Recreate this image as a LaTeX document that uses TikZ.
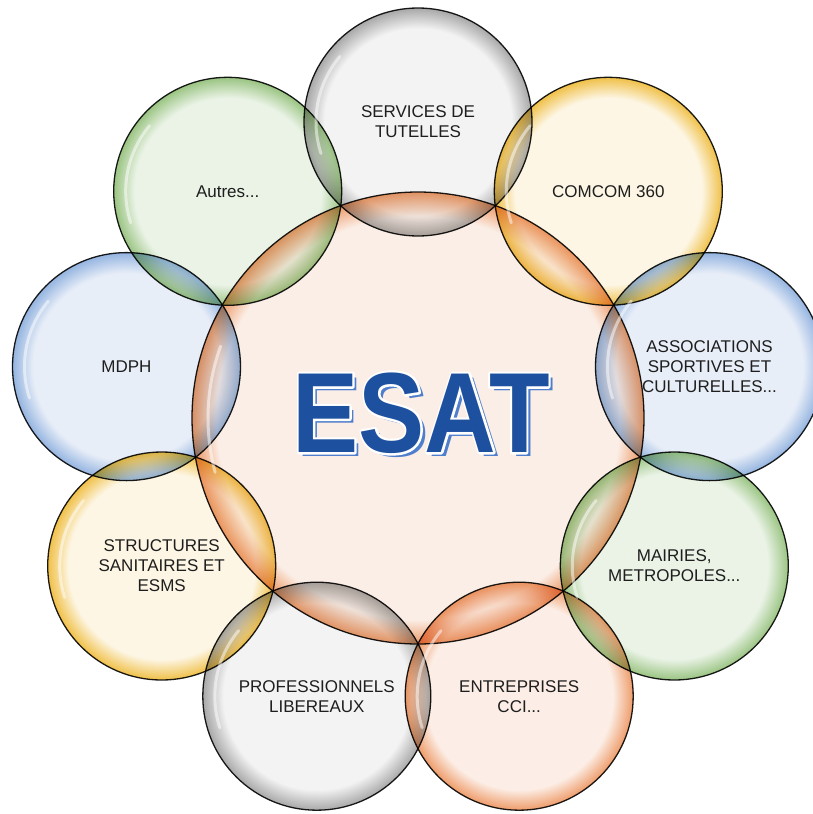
\documentclass[tikz,border=0pt]{standalone}
\usepackage{fontspec}
\setmainfont{Liberation Sans}

% interior / rim colours of the bubbles
\definecolor{greyin}{HTML}{F3F3F3}   \definecolor{greyout}{HTML}{A8A8A8}
\definecolor{yellowin}{HTML}{FDF6E4} \definecolor{yellowout}{HTML}{F0C048}
\definecolor{bluein}{HTML}{E8EEF8}   \definecolor{blueout}{HTML}{94B4E0}
\definecolor{greenin}{HTML}{EAF3E6}  \definecolor{greenout}{HTML}{9AC482}
\definecolor{orangein}{HTML}{FCEEE6} \definecolor{orangeout}{HTML}{EE9C6A}
\definecolor{hubin}{HTML}{FBEEE6}    \definecolor{hubout}{HTML}{EC9A68}
\definecolor{edgeline}{HTML}{1C1C1C}
\definecolor{labelink}{HTML}{1E1E1E}
\definecolor{esatblue}{HTML}{1E50A0}
\definecolor{esatshade}{HTML}{4E7ECC}

% pale centre, coloured rim (the path edge sits at 25bp)
\pgfdeclareradialshading{greyring}{\pgfpointorigin}{color(0bp)=(greyin); color(20.5bp)=(greyin); color(25bp)=(greyout); color(50bp)=(greyout)}
\pgfdeclareradialshading{yellowring}{\pgfpointorigin}{color(0bp)=(yellowin); color(20.5bp)=(yellowin); color(25bp)=(yellowout); color(50bp)=(yellowout)}
\pgfdeclareradialshading{bluering}{\pgfpointorigin}{color(0bp)=(bluein); color(20.5bp)=(bluein); color(25bp)=(blueout); color(50bp)=(blueout)}
\pgfdeclareradialshading{greenring}{\pgfpointorigin}{color(0bp)=(greenin); color(20.5bp)=(greenin); color(25bp)=(greenout); color(50bp)=(greenout)}
\pgfdeclareradialshading{orangering}{\pgfpointorigin}{color(0bp)=(orangein); color(20.5bp)=(orangein); color(25bp)=(orangeout); color(50bp)=(orangeout)}
\pgfdeclareradialshading{hubring}{\pgfpointorigin}{color(0bp)=(hubin); color(22.3bp)=(hubin); color(25bp)=(hubout); color(50bp)=(hubout)}

\newcommand{\esatword}{\scalebox{0.87}[1]{\fontsize{114}{114}\selectfont\bfseries ESAT}}
% same word, glyphs filled and stroked in white for the halo
\newcommand{\esathalo}{\special{pdf:literal direct 2 Tr 4.6 w 1 1 1 RG 1 j}\esatword\special{pdf:literal direct 0 Tr}}

\begin{document}
\begin{tikzpicture}[x=1pt,y=-1pt,
  bubble/.style={circle, inner sep=0pt, outer sep=0pt, minimum size=228pt,
                 shade, draw=edgeline, line width=1.3pt, blend mode=multiply},
  hub/.style={bubble, minimum size=452pt},
  lbl/.style={align=center, font=\fontsize{17}{20}\selectfont, text=labelink, inner sep=0pt},
  esattxt/.style={inner sep=0pt, outer sep=0pt},
  gloss/.style={white, line width=3pt, line cap=round, opacity=0.5}]

\fill[white] (0,0) rectangle (813,814);
\useasboundingbox (0,0) rectangle (813,814);

% central bubble
\node[hub, shading=hubring] (hub) at (418,418) {};

% ring of partner bubbles
\node[bubble, shading=greyring]   (tutelles) at (418,122) {};
\node[bubble, shading=yellowring] (comcom)   at (608.3,191.3) {};
\node[bubble, shading=bluering]   (assoc)    at (709.5,366.6) {};
\node[bubble, shading=greenring]  (mairies)  at (674.3,566) {};
\node[bubble, shading=orangering] (entrep)   at (519.2,696.2) {};
\node[bubble, shading=greyring]   (prof)     at (316.8,696.2) {};
\node[bubble, shading=yellowring] (struct)   at (161.7,566) {};
\node[bubble, shading=bluering]   (mdph)     at (126.5,366.6) {};
\node[bubble, shading=greenring]  (autres)   at (227.7,191.3) {};

% glossy highlights
\foreach \b in {tutelles,comcom,assoc,mairies,entrep,prof,struct,mdph,autres}{
  \draw[gloss] (\b.center) ++(140:102pt) arc[start angle=140, end angle=198, radius=102pt];
}
\draw[gloss] (hub.center) ++(160:210pt) arc[start angle=160, end angle=195, radius=210pt];

% labels
\node[lbl] (l-tutelles) at (tutelles) {SERVICES DE\\TUTELLES};
\node[lbl] (l-comcom)   at (comcom)   {COMCOM 360};
\node[lbl] (l-assoc)    at (assoc)    {ASSOCIATIONS\\SPORTIVES ET\\CULTURELLES...};
\node[lbl] (l-mairies)  at (mairies)  {MAIRIES,\\METROPOLES...};
\node[lbl] (l-entrep)   at (entrep)   {ENTREPRISES\\CCI...};
\node[lbl] (l-prof)     at (prof)     {PROFESSIONNELS\\LIBEREAUX};
\node[lbl] (l-struct)   at (struct)   {STRUCTURES\\SANITAIRES ET\\ESMS};
\node[lbl] (l-mdph)     at (mdph)     {MDPH};
\node[lbl] (l-autres)   at (autres)   {Autres...};

% title: offset shadow, white halo, solid letters
\coordinate (esatpos) at (421,413);
\node[esattxt, text=esatshade] (esat-shadow) at ([shift={(4.5pt,-4.5pt)}]esatpos) {\esatword};
\node[esattxt, text=white] (esat-halo) at (esatpos) {\esathalo};
\node[esattxt, text=esatblue] (esat) at (esatpos) {\esatword};
\end{tikzpicture}
\end{document}
